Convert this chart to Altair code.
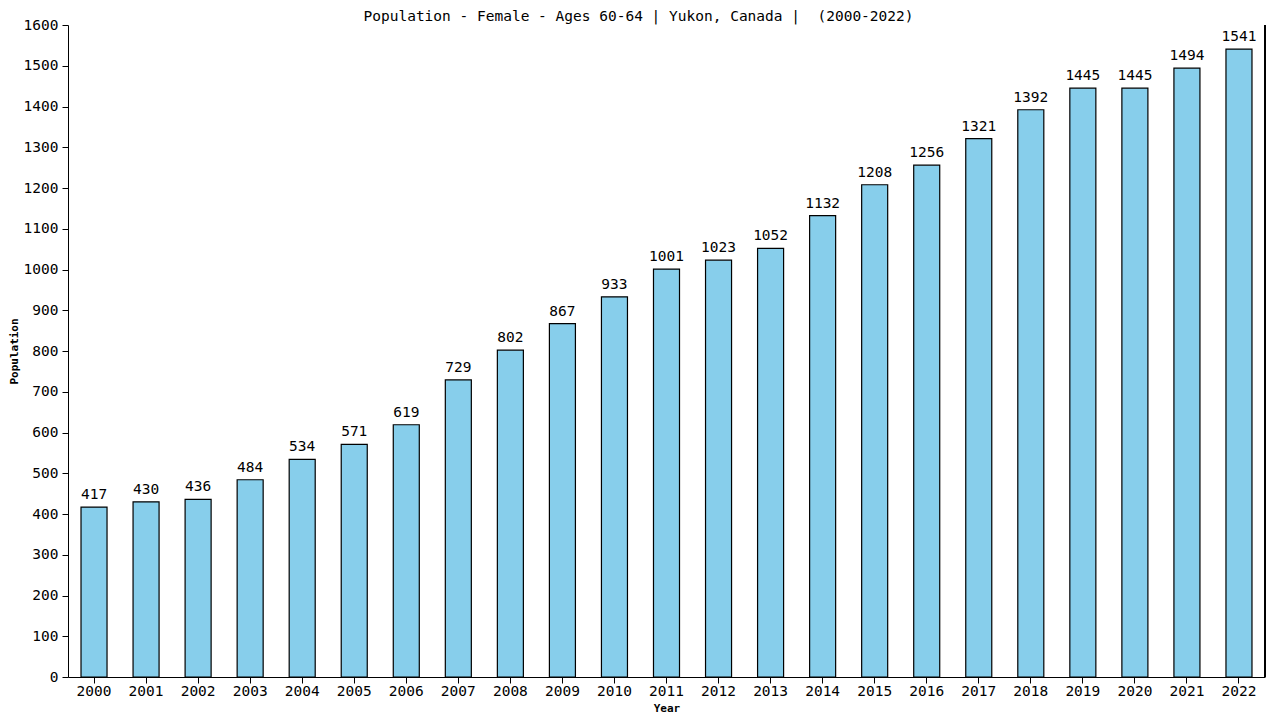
import altair as alt
import pandas as pd

years = [str(y) for y in range(2000, 2023)]
values = [417, 430, 436, 484, 534, 571, 619, 729, 802, 867, 933, 1001, 1023, 1052,
          1132, 1208, 1256, 1321, 1392, 1445, 1445, 1494, 1541]

df = pd.DataFrame({"Year": years, "Population": values})

W, H = 1197, 652
FONT = "DejaVu Sans Mono"

base = alt.Chart(df)

bars = base.mark_bar(color="#87CEEB", stroke="#000000", strokeWidth=1.2).encode(
    x=alt.X("Year:N", title="Year", sort=years,
            scale=alt.Scale(paddingInner=0.5, paddingOuter=0.25),
            axis=alt.Axis(labelAngle=0, labelFontSize=14.5, labelFont=FONT, labelColor="#000",
                          titleFont=FONT, titleFontSize=11, titleFontWeight="bold",
                          domainColor="#000", tickColor="#000", tickSize=6, labelPadding=1,
                          titlePadding=5)),
    y=alt.Y("Population:Q", title="Population",
            scale=alt.Scale(domain=[0, 1600], nice=False),
            axis=alt.Axis(values=list(range(0, 1601, 100)), format="d", labelFontSize=14.5,
                          labelFont=FONT, labelColor="#000", titleFont=FONT, titleFontSize=11,
                          titleFontWeight="bold", domainColor="#000", tickColor="#000",
                          tickSize=6, grid=False, titlePadding=4, labelPadding=4)),
)

labels = base.mark_text(baseline="bottom", dy=-5, font=FONT, fontSize=14.5, color="#000").encode(
    x=alt.X("Year:N", sort=years),
    y="Population:Q",
    text="Population:Q",
)

right_line = base.mark_rule(color="#000", strokeWidth=1).encode(
    x=alt.value(W), y=alt.value(0), y2=alt.value(H)
)

chart = (bars + labels + right_line).properties(
    width=W, height=H,
    title=alt.Title("Population - Female - Ages 60-64 | Yukon, Canada |\u00a0 (2000-2022)",
                    font=FONT, fontSize=14.5, fontWeight="normal", color="#000",
                    anchor="middle", dx=-28, offset=-7),
    autosize=alt.AutoSizeParams(type="none"),
    padding={"left": 60, "top": 17, "right": 7, "bottom": 43},
).configure_view(stroke=None)

chart.save("out.html", embed_options={"renderer": "svg", "actions": False})
